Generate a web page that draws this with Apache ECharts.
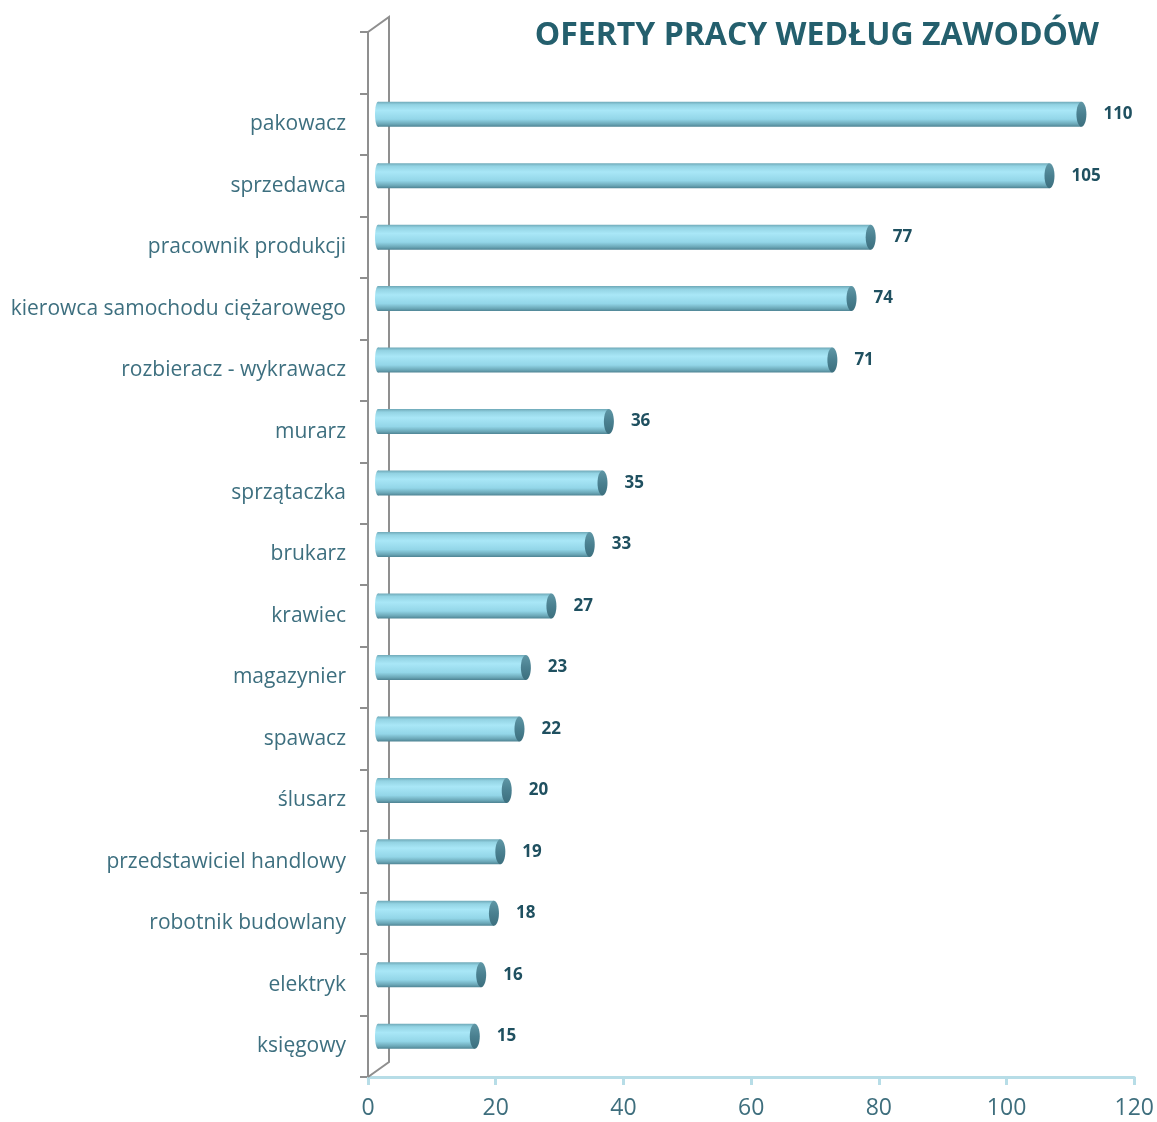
<!DOCTYPE html>
<html>
<head>
<meta charset="utf-8">
<script src="https://cdn.jsdelivr.net/npm/echarts@6/dist/echarts.min.js"></script>
<style>
html,body{margin:0;padding:0;background:#fff;}
#chart{width:1157px;height:1122px;}
</style>
</head>
<body>
<div id="chart"></div>
<script>
const categories = ['księgowy','elektryk','robotnik budowlany','przedstawiciel handlowy','ślusarz','spawacz','magazynier','krawiec','brukarz','sprzątaczka','murarz','rozbieracz - wykrawacz','kierowca samochodu ciężarowego','pracownik produkcji','sprzedawca','pakowacz',''];
const values = [15,16,18,19,20,22,23,27,33,35,36,71,74,77,105,110,null];
const xTicks = {min:0, max:120, interval:20};

const chart = echarts.init(document.getElementById('chart'));
const DX0 = 7, DX = 11, DY = -10, BH = 25, CAP = 5;
const WDX = 21, WDY = -15;

function barItem(params, api){
  const v = api.value(1);
  if (v == null || isNaN(v)) return;
  const p0 = api.coord([0, api.value(0)]);
  const p1 = api.coord([v, api.value(0)]);
  const x0 = p0[0] + DX0, x1 = p1[0] + DX, cy = p0[1] + DY;
  const grad = new echarts.graphic.LinearGradient(0,0,0,1,[
    {offset:0,color:'#6fa9b8'},{offset:0.12,color:'#93d3e3'},{offset:0.35,color:'#a9e7f7'},
    {offset:0.7,color:'#93d6e8'},{offset:0.9,color:'#6aa6b6'},{offset:1,color:'#4e8393'}]);
  const capGrad = new echarts.graphic.LinearGradient(0,0,0,1,[
    {offset:0,color:'#5f97a6'},{offset:0.5,color:'#4a8090'},{offset:1,color:'#3c6f7e'}]);
  return {type:'group', children:[
    {type:'ellipse', shape:{cx:x0+3, cy:cy, rx:3, ry:BH/2}, style:{fill:grad}},
    {type:'rect', shape:{x:x0+3, y:cy-BH/2, width:Math.max(0,x1-x0-3), height:BH}, style:{fill:grad}},
    {type:'ellipse', shape:{cx:x1, cy:cy, rx:CAP, ry:BH/2}, style:{fill:capGrad}},
    {type:'text', style:{x:p1[0]+33, y:cy, text:String(v), fill:'#1f5060',
      font:'bold 17px "Open Sans", sans-serif', verticalAlign:'middle', align:'left'}}
  ]};
}

function wallItem(params, api){
  const cs = params.coordSys;
  const x = cs.x, y = cs.y, h = cs.height;
  return {type:'polyline', shape:{points:[[x, y],[x+WDX, y+WDY],[x+WDX, y+h+WDY],[x, y+h]]},
    style:{stroke:'#8f8f8f', lineWidth:2, fill:null}, z:1};
}

chart.setOption({
  animation:false,
  backgroundColor:'#ffffff',
  title:{text:'OFERTY PRACY WEDŁUG ZAWODÓW', right:53, top:15,
    textStyle:{color:'#245f6d', fontSize:32, fontWeight:'bold', fontFamily:'"Open Sans", sans-serif'}},
  grid:{left:368, right:22, top:32, bottom:45, containLabel:false},
  xAxis:{type:'value', min:xTicks.min, max:xTicks.max, interval:xTicks.interval,
    axisLine:{show:true, lineStyle:{color:'#b7dde7', width:3}},
    axisTick:{show:true, length:8, lineStyle:{color:'#b7dde7', width:3}},
    axisLabel:{color:'#3e6e7d', fontSize:23, margin:20, fontFamily:'"Open Sans", sans-serif'},
    splitLine:{show:false}},
  yAxis:{type:'category', data:categories,
    axisLine:{show:true, lineStyle:{color:'#8f8f8f', width:2}},
    axisTick:{show:true, length:8, lineStyle:{color:'#8f8f8f', width:2}},
    axisLabel:{color:'#3d6f7f', fontSize:21, margin:22, fontFamily:'"Open Sans", sans-serif'}},
  series:[
    {type:'custom', name:'wall', renderItem:wallItem, data:[[0,0]], z:1, silent:true},
    {type:'custom', name:'oferty', renderItem:barItem, data:values.map((v,i)=>[i,v]),
      encode:{x:1, y:0}, z:3}
  ]
});
</script>
</body>
</html>
